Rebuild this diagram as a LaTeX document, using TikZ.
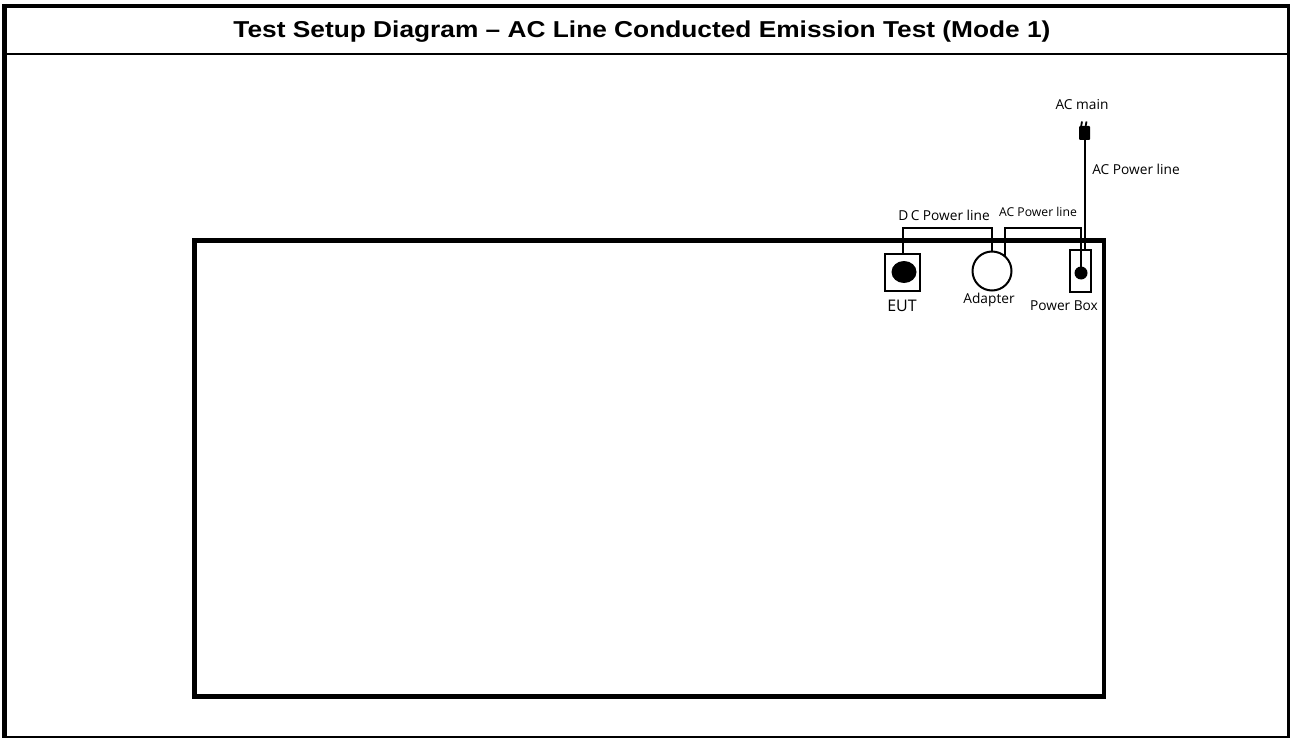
\documentclass[tikz,border=0pt]{standalone}
\usepackage{fontspec}
\setmainfont{Liberation Sans}
\newfontfamily\labfont{Open Sans}
\begin{document}
\begin{tikzpicture}[x=1pt,y=-1pt,
  wire/.style={line width=2pt},
  lbl/.style={font={\labfont\fontsize{13.7}{15}\selectfont}, inner sep=0pt, anchor=base},
  smalllbl/.style={font={\labfont\fontsize{12.2}{14}\selectfont}, inner sep=0pt, anchor=base},
  biglbl/.style={font={\labfont\fontsize{16}{18}\selectfont}, inner sep=0pt, anchor=base},
  unit/.style={draw, line width=2pt, inner sep=0pt},
  ]
\useasboundingbox (0,0) rectangle (1290,738);
% outer frame
\draw[line width=4pt] (2,6) -- (1290,6);
\draw[line width=5pt] (4.5,4) -- (4.5,738);
\draw[line width=2.7pt] (1288.5,4) -- (1288.5,738);
\draw[line width=2pt] (2,737) -- (1290,737);
\draw[line width=2.8pt] (4.5,54) -- (1288.5,54);
% title
\node[font={\bfseries\fontsize{23}{26}\selectfont}, anchor=base, inner sep=0pt] (title) at (642,38)
  {\scalebox{1.143}[1]{Test Setup Diagram – AC Line Conducted Emission Test (Mode 1)}};
% table
\draw[line width=4.5pt] (194.5,240.5) rectangle (1104,696.5);
% EUT
\node[unit, minimum width=35pt, minimum height=37pt] (eut) at (902.5,272) {};
\fill (904,272) ellipse [x radius=12.5pt, y radius=11pt];
% adapter
\node[unit, circle, minimum size=39pt] (adapter) at (992,271) {};
% power box
\node[unit, line width=1.8pt, minimum width=21pt, minimum height=42pt] (pbox) at (1080.5,271) {};
\node[circle, fill, minimum size=13pt, inner sep=0pt] (pdot) at (1081,273) {};
% plug
\node[fill, minimum width=11pt, minimum height=14pt, inner sep=0pt, rounded corners=1pt] (plug) at (1084.5,133) {};
\draw[line width=1.8pt] (1081,127) -- (1082,121.5);
\draw[line width=1.8pt] (1085.5,127) -- (1086.5,121.5);
% wires
\coordinate (wy) at (0,228);
\draw[wire] (eut.north) -- (eut.north |- wy) -| (adapter.north);
\draw[wire] (adapter.49) -- (adapter.49 |- wy) -| (pdot.center);
\draw[wire] (plug.south) -- (plug.south |- pbox.north);
% labels
\node[lbl] (acmain) at (1082,110) {AC main};
\node[lbl] (acl1) at (1136,175) {AC Power line};
\node[lbl] (dcl) at (944,220) {D\kern2.5pt C Power line};
\node[smalllbl] (acl2) at (1038,217) {AC Power line};
\node[biglbl] (eutl) at (902,311) {EUT};
\node[lbl] (adl) at (989,303) {Adapter};
\node[lbl] (pbl) at (1064,310) {Power Box};
\end{tikzpicture}
\end{document}
